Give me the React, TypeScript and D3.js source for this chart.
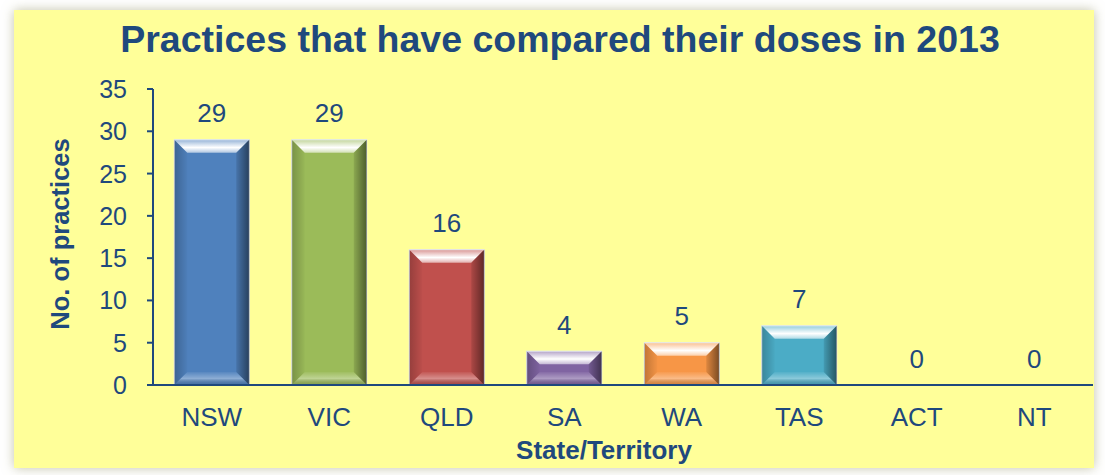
import React from "react";
import * as d3 from "d3";

const categories = ["NSW", "VIC", "QLD", "SA", "WA", "TAS", "ACT", "NT"];
const values = [29, 29, 16, 4, 5, 7, 0, 0];
const barColors = ["#4F81BD", "#9BBB59", "#C0504D", "#8064A2", "#F79646", "#4BACC6", "#4BACC6", "#4BACC6"];
const yTicks = [0, 5, 10, 15, 20, 25, 30, 35];
const title = "Practices that have compared their doses in 2013";
const yTitle = "No. of practices";
const xTitle = "State/Territory";

const W = 1105, H = 475;
const TXT = "#1F497D";
const FONT = "'Liberation Sans', Arial, sans-serif";

export default function App() {
  const x = d3.scaleBand().domain(categories).range([153, 1093]).paddingInner(0.362).paddingOuter(0.181);
  const y = d3.scaleLinear().domain([0, 35]).range([385, 89]);
  const bw = x.bandwidth();
  const bev = 13;

  return (
    <svg width={W} height={H} style={{ position: "absolute", left: 0, top: 0 }} fontFamily={FONT}>
      <defs>
        <filter id="sh" x="-5%" y="-5%" width="110%" height="110%">
          <feGaussianBlur in="SourceAlpha" stdDeviation="6" />
          <feOffset dx="0" dy="0" result="b" />
          <feFlood floodColor="#9a9a70" floodOpacity="0.6" />
          <feComposite in2="b" operator="in" />
          <feMerge>
            <feMergeNode />
            <feMergeNode in="SourceGraphic" />
          </feMerge>
        </filter>
        <linearGradient id="topG" x1="0" y1="0" x2="0" y2="1">
          <stop offset="0" stopColor="#ffffff" stopOpacity="0.4" />
          <stop offset="0.6" stopColor="#ffffff" stopOpacity="1" />
          <stop offset="1" stopColor="#ffffff" stopOpacity="0.55" />
        </linearGradient>
        <linearGradient id="rightG" x1="0" y1="0" x2="1" y2="0">
          <stop offset="0" stopColor="#000" stopOpacity="0.1" />
          <stop offset="1" stopColor="#000" stopOpacity="0.5" />
        </linearGradient>
        <linearGradient id="leftG" x1="0" y1="0" x2="1" y2="0">
          <stop offset="0" stopColor="#000" stopOpacity="0.22" />
          <stop offset="1" stopColor="#000" stopOpacity="0.02" />
        </linearGradient>
        <linearGradient id="botG" x1="0" y1="0" x2="0" y2="1">
          <stop offset="0" stopColor="#ffffff" stopOpacity="0.05" />
          <stop offset="0.5" stopColor="#ffffff" stopOpacity="0.35" />
          <stop offset="1" stopColor="#000" stopOpacity="0.12" />
        </linearGradient>
      </defs>
      <rect x={0} y={0} width={W} height={H} fill="#ffffff" />
      <rect x={14} y={10} width={1080} height={458} fill="#FFFF99" filter="url(#sh)" />

      <text x={560} y={52} textAnchor="middle" fontSize={37.5} fontWeight="bold" fill={TXT}>{title}</text>

      {categories.map((c, i) => {
        const v = values[i];
        if (v <= 0) return null;
        const x0 = x(c)!;
        const x1 = x0 + bw;
        const y0 = y(v);
        const y1 = y(0);
        const b = Math.min(bev, (y1 - y0) / 2.6);
        return (
          <g key={c}>
            <rect x={x0} y={y0} width={bw} height={y1 - y0} fill={barColors[i]} stroke="#dfe6f5" strokeWidth={1} />
            <polygon points={`${x0},${y0} ${x1},${y0} ${x1 - b},${y0 + b} ${x0 + b},${y0 + b}`} fill="url(#topG)" />
            <polygon points={`${x1},${y0} ${x1},${y1} ${x1 - b},${y1 - b} ${x1 - b},${y0 + b}`} fill="url(#rightG)" />
            <polygon points={`${x0},${y0} ${x0 + b},${y0 + b} ${x0 + b},${y1 - b} ${x0},${y1}`} fill="url(#leftG)" />
            <polygon points={`${x0},${y1} ${x0 + b},${y1 - b} ${x1 - b},${y1 - b} ${x1},${y1}`} fill="url(#botG)" />
          </g>
        );
      })}

      {categories.map((c, i) => (
        <text key={"l" + c} x={x(c)! + bw / 2} y={y(values[i]) - 17.5} textAnchor="middle" fontSize={26} fill={TXT}>
          {values[i]}
        </text>
      ))}

      {/* axes */}
      <line x1={153} x2={153} y1={89} y2={385} stroke={TXT} strokeWidth={2} />
      <line x1={147} x2={1093} y1={385} y2={385} stroke={TXT} strokeWidth={2} />
      {yTicks.map((t) => (
        <g key={"t" + t}>
          <line x1={147} x2={153} y1={y(t)} y2={y(t)} stroke={TXT} strokeWidth={2} />
          <text x={127} y={y(t) + 9} textAnchor="end" fontSize={25} fill={TXT}>{t}</text>
        </g>
      ))}
      {categories.map((c) => (
        <text key={"x" + c} x={x(c)! + bw / 2} y={426} textAnchor="middle" fontSize={26} fill={TXT}>{c}</text>
      ))}

      <text x={604} y={459} textAnchor="middle" fontSize={26} fontWeight="bold" fill={TXT}>{xTitle}</text>
      <text transform={`translate(69,234) rotate(-90)`} textAnchor="middle" fontSize={25.5} fontWeight="bold" fill={TXT}>{yTitle}</text>
    </svg>
  );
}
